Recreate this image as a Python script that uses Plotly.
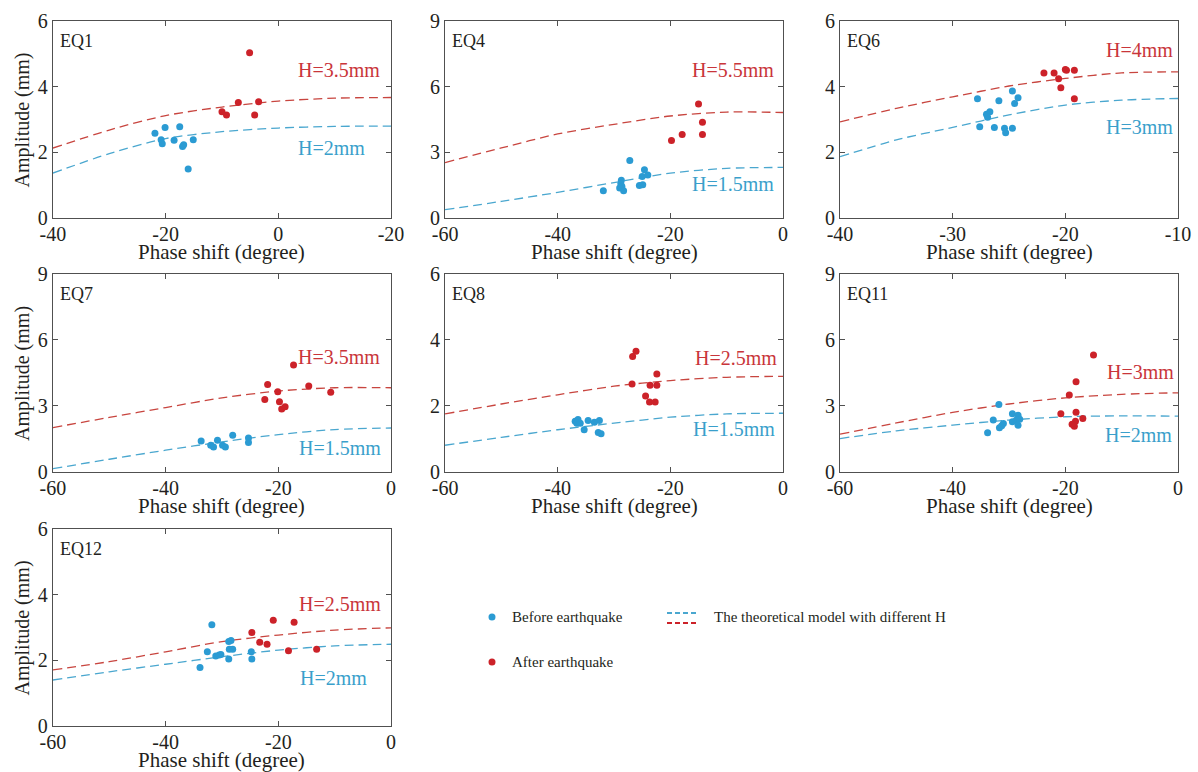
import plotly.graph_objects as go

# ---------------- data ----------------
EQ1_before_x = [-21.9, -20.1, -20.8, -20.6, -18.5, -17.5, -17.0, -16.8, -16.0, -15.1]
EQ1_before_y = [2.58, 2.76, 2.38, 2.26, 2.37, 2.78, 2.18, 2.23, 1.49, 2.38]
EQ1_after_x = [-5.1, -10.0, -9.2, -7.1, -3.5, -4.2]
EQ1_after_y = [5.03, 3.24, 3.14, 3.52, 3.54, 3.14]
EQ1_model_x = [-40, -30, -20, -10, 0, 10, 20]
EQ1_model_red = [2.13, 2.68, 3.12, 3.38, 3.56, 3.65, 3.67]
EQ1_model_blue = [1.37, 1.96, 2.42, 2.63, 2.74, 2.79, 2.80]

EQ4_before_x = [-31.9, -27.2, -28.7, -28.8, -28.6, -29.0, -28.3, -24.6, -25.0, -24.0, -25.5, -24.9]
EQ4_before_y = [1.24, 2.63, 1.73, 1.56, 1.44, 1.37, 1.24, 2.20, 1.90, 1.97, 1.49, 1.52]
EQ4_after_x = [-15.0, -14.3, -14.3, -17.9, -19.8]
EQ4_after_y = [5.21, 4.37, 3.82, 3.82, 3.54]
EQ4_model_x = [-60, -50, -40, -30, -20, -10, 0]
EQ4_model_red = [2.53, 3.20, 3.84, 4.28, 4.66, 4.84, 4.82]
EQ4_model_blue = [0.38, 0.76, 1.17, 1.62, 2.05, 2.27, 2.31]

EQ6_before_x = [-27.8, -27.6, -27.0, -26.7, -26.9, -26.3, -25.9, -25.4, -25.3, -24.7, -24.7, -24.5, -24.2]
EQ6_before_y = [3.63, 2.78, 3.16, 3.24, 3.07, 2.76, 3.57, 2.73, 2.60, 3.87, 2.73, 3.49, 3.66]
EQ6_after_x = [-21.9, -21.0, -20.6, -20.4, -20.0, -19.9, -19.2, -19.2]
EQ6_after_y = [4.42, 4.42, 4.24, 3.97, 4.52, 4.50, 4.50, 3.63]
EQ6_model_x = [-40, -35, -30, -25, -20, -15, -10]
EQ6_model_red = [2.93, 3.34, 3.69, 4.02, 4.25, 4.42, 4.45]
EQ6_model_blue = [1.87, 2.38, 2.76, 3.14, 3.44, 3.59, 3.64]

EQ7_before_x = [-33.7, -32.0, -31.5, -30.8, -29.9, -29.4, -28.1, -25.3, -25.3]
EQ7_before_y = [1.41, 1.22, 1.14, 1.44, 1.22, 1.14, 1.67, 1.55, 1.34]
EQ7_after_x = [-21.9, -22.4, -20.1, -19.8, -19.4, -18.8, -17.3, -14.6, -10.7]
EQ7_after_y = [3.98, 3.30, 3.65, 3.19, 2.86, 2.96, 4.86, 3.91, 3.62]
EQ7_model_x = [-60, -50, -40, -30, -20, -10, 0]
EQ7_model_red = [2.02, 2.48, 2.93, 3.37, 3.68, 3.83, 3.83]
EQ7_model_blue = [0.15, 0.58, 0.99, 1.37, 1.70, 1.93, 2.00]

EQ8_before_x = [-36.9, -36.4, -36.6, -36.0, -34.6, -35.3, -33.5, -32.6, -32.8, -32.3]
EQ8_before_y = [1.54, 1.59, 1.48, 1.48, 1.56, 1.28, 1.51, 1.56, 1.20, 1.16]
EQ8_after_x = [-26.7, -26.1, -26.8, -22.4, -23.6, -22.4, -24.4, -23.7, -22.7]
EQ8_after_y = [3.50, 3.66, 2.67, 2.97, 2.63, 2.63, 2.30, 2.12, 2.12]
EQ8_model_x = [-60, -50, -40, -30, -20, -10, 0]
EQ8_model_red = [1.76, 2.06, 2.34, 2.60, 2.77, 2.87, 2.90]
EQ8_model_blue = [0.81, 1.05, 1.28, 1.48, 1.66, 1.76, 1.78]

EQ11_before_x = [-33.8, -32.8, -31.8, -31.7, -31.3, -31.0, -29.4, -28.4, -29.4, -28.7, -28.1, -28.4]
EQ11_before_y = [1.78, 2.36, 3.07, 2.01, 2.10, 2.20, 2.65, 2.58, 2.28, 2.36, 2.40, 2.13]
EQ11_after_x = [-15.0, -18.1, -19.3, -20.8, -18.1, -16.9, -18.2, -18.8, -18.4]
EQ11_after_y = [5.32, 4.10, 3.50, 2.65, 2.71, 2.43, 2.31, 2.17, 2.08]
EQ11_model_x = [-60, -50, -40, -30, -20, -10, 0]
EQ11_model_red = [1.72, 2.23, 2.71, 3.09, 3.37, 3.53, 3.60]
EQ11_model_blue = [1.52, 1.87, 2.13, 2.36, 2.51, 2.55, 2.54]

EQ12_before_x = [-33.9, -32.6, -31.8, -31.1, -30.5, -30.2, -28.8, -28.8, -28.4, -28.7, -28.1, -24.8, -24.7]
EQ12_before_y = [1.78, 2.26, 3.08, 2.13, 2.16, 2.18, 2.04, 2.57, 2.60, 2.34, 2.34, 2.26, 2.04]
EQ12_after_x = [-24.7, -23.3, -22.0, -20.9, -17.2, -18.2, -13.2]
EQ12_after_y = [2.85, 2.55, 2.49, 3.22, 3.16, 2.29, 2.34]
EQ12_model_x = [-60, -50, -40, -30, -20, -10, 0]
EQ12_model_red = [1.71, 1.96, 2.26, 2.57, 2.77, 2.92, 2.99]
EQ12_model_blue = [1.40, 1.65, 1.88, 2.11, 2.31, 2.44, 2.49]

panel_names = ["EQ1", "EQ4", "EQ6", "EQ7", "EQ8", "EQ11", "EQ12"]
red_labels = ["H=3.5mm", "H=5.5mm", "H=4mm", "H=3.5mm", "H=2.5mm", "H=3mm", "H=2.5mm"]
blue_labels = ["H=2mm", "H=1.5mm", "H=3mm", "H=1.5mm", "H=1.5mm", "H=2mm", "H=2mm"]

x_ticks = {
    "EQ1": ([-40, -20, 0, 20], ["-40", "-20", "0", "-20"]),
    "EQ4": ([-60, -40, -20, 0], ["-60", "-40", "-20", "0"]),
    "EQ6": ([-40, -30, -20, -10], ["-40", "-30", "-20", "-10"]),
    "EQ7": ([-60, -40, -20, 0], ["-60", "-40", "-20", "0"]),
    "EQ8": ([-60, -40, -20, 0], ["-60", "-40", "-20", "0"]),
    "EQ11": ([-60, -40, -20, 0], ["-60", "-40", "-20", "0"]),
    "EQ12": ([-60, -40, -20, 0], ["-60", "-40", "-20", "0"]),
}
y_ticks = {
    "EQ1": [0, 2, 4, 6], "EQ4": [0, 3, 6, 9], "EQ6": [0, 2, 4, 6],
    "EQ7": [0, 3, 6, 9], "EQ8": [0, 2, 4, 6], "EQ11": [0, 3, 6, 9],
    "EQ12": [0, 2, 4, 6],
}

data = {
    "EQ1": (EQ1_before_x, EQ1_before_y, EQ1_after_x, EQ1_after_y, EQ1_model_x, EQ1_model_red, EQ1_model_blue),
    "EQ4": (EQ4_before_x, EQ4_before_y, EQ4_after_x, EQ4_after_y, EQ4_model_x, EQ4_model_red, EQ4_model_blue),
    "EQ6": (EQ6_before_x, EQ6_before_y, EQ6_after_x, EQ6_after_y, EQ6_model_x, EQ6_model_red, EQ6_model_blue),
    "EQ7": (EQ7_before_x, EQ7_before_y, EQ7_after_x, EQ7_after_y, EQ7_model_x, EQ7_model_red, EQ7_model_blue),
    "EQ8": (EQ8_before_x, EQ8_before_y, EQ8_after_x, EQ8_after_y, EQ8_model_x, EQ8_model_red, EQ8_model_blue),
    "EQ11": (EQ11_before_x, EQ11_before_y, EQ11_after_x, EQ11_after_y, EQ11_model_x, EQ11_model_red, EQ11_model_blue),
    "EQ12": (EQ12_before_x, EQ12_before_y, EQ12_after_x, EQ12_after_y, EQ12_model_x, EQ12_model_red, EQ12_model_blue),
}

# ---------------- styling / layout ----------------
FONT = "Liberation Serif, Times New Roman, serif"
TXT = "#231f20"
AX = "#505050"
C_BLUE_PT = "#2b9bd3"
C_RED_PT = "#cc2229"
C_BLUE_LN = "#4aa7cf"
C_RED_LN = "#c8453f"
C_BLUE_TX = "#3a9fcb"
C_RED_TX = "#c9353a"

col_dom = [(0.0442, 0.3264), (0.3715, 0.6536), (0.7012, 0.9833)]
row_dom = [(0.7176, 0.9728), (0.3886, 0.6451), (0.0596, 0.3148)]
pos = [(0, 0), (0, 1), (0, 2), (1, 0), (1, 1), (1, 2), (2, 0)]
# label placement in axis-domain x and data y
red_lab_pos = [(0.973, 4.52), (0.980, 6.78), (0.992, 5.11), (0.973, 5.24), (0.987, 3.44), (0.993, 4.53), (0.975, 3.70)]
blue_lab_pos = [(0.929, 2.12), (0.980, 1.55), (0.992, 2.78), (0.976, 1.09), (0.982, 1.31), (0.987, 1.67), (0.935, 1.45)]

fig = go.Figure()
annotations = []
shapes = []

for i, name in enumerate(panel_names):
    r, c = pos[i]
    n = "" if i == 0 else str(i + 1)
    xa, ya = "x" + n, "y" + n
    bx, by, ax_, ay, mx, mr, mb = data[name]
    fig.add_trace(go.Scatter(x=mx, y=mr, mode="lines", line=dict(color=C_RED_LN, width=1.3, dash="9px,5px", shape="spline", smoothing=0.8),
                             xaxis=xa, yaxis=ya, showlegend=False, hoverinfo="skip"))
    fig.add_trace(go.Scatter(x=mx, y=mb, mode="lines", line=dict(color=C_BLUE_LN, width=1.3, dash="9px,5px", shape="spline", smoothing=0.8),
                             xaxis=xa, yaxis=ya, showlegend=False, hoverinfo="skip"))
    fig.add_trace(go.Scatter(x=bx, y=by, mode="markers", marker=dict(color=C_BLUE_PT, size=7, line=dict(width=0)),
                             xaxis=xa, yaxis=ya, showlegend=False, name="Before earthquake"))
    fig.add_trace(go.Scatter(x=ax_, y=ay, mode="markers", marker=dict(color=C_RED_PT, size=7, line=dict(width=0)),
                             xaxis=xa, yaxis=ya, showlegend=False, name="After earthquake"))

    tv, tt = x_ticks[name]
    yt = y_ticks[name]
    common = dict(showline=True, linecolor=AX, linewidth=1.2, mirror="ticks", ticks="inside", ticklen=5,
                  tickcolor=AX, tickwidth=1.2, showgrid=False, zeroline=False, automargin=False,
                  tickfont=dict(family=FONT, size=20, color=TXT))
    fig.layout["xaxis" + n] = dict(domain=col_dom[c], anchor=ya, range=[tv[0], tv[-1]], tickvals=tv, ticktext=tt,
                                   ticklabelstandoff=-2, **common)
    fig.layout["yaxis" + n] = dict(domain=row_dom[r], anchor=xa, range=[yt[0], yt[-1]], tickvals=yt,
                                   **common)

    # axis titles
    annotations.append(dict(text="Phase shift (degree)", xref=xa + " domain", yref=ya + " domain", x=0.5, y=0,
                            xanchor="center", yanchor="middle", yshift=-34, showarrow=False,
                            font=dict(family=FONT, size=21, color=TXT)))
    if c == 0:
        annotations.append(dict(text="Amplitude (mm)", xref=xa + " domain", yref=ya + " domain", x=0, y=0.5,
                                xanchor="center", yanchor="middle", xshift=-30, textangle=-90, showarrow=False,
                                font=dict(family=FONT, size=20, color=TXT)))

    annotations.append(dict(text=name, xref=xa + " domain", yref=ya + " domain", x=0.015, y=0.90,
                            xanchor="left", yanchor="middle", showarrow=False,
                            font=dict(family=FONT, size=18, color=TXT)))
    rx, ry = red_lab_pos[i]
    annotations.append(dict(text=red_labels[i], xref=xa + " domain", yref=ya, x=rx, y=ry,
                            xanchor="right", yanchor="middle", showarrow=False,
                            font=dict(family=FONT, size=20, color=C_RED_TX)))
    bxp, byp = blue_lab_pos[i]
    annotations.append(dict(text=blue_labels[i], xref=xa + " domain", yref=ya, x=bxp, y=byp,
                            xanchor="right", yanchor="middle", showarrow=False,
                            font=dict(family=FONT, size=20, color=C_BLUE_TX)))

# ---------------- manual legend ----------------
W, H = 1198, 772
def px(xp):
    return xp / W
def py(yp):
    return 1 - yp / H

for (cx, cy, col) in [(492, 617, C_BLUE_PT), (492, 662, C_RED_PT)]:
    shapes.append(dict(type="circle", xref="paper", yref="paper", xsizemode="pixel", ysizemode="pixel",
                       xanchor=px(cx), yanchor=py(cy), x0=-3.5, x1=3.5, y0=-3.5, y1=3.5,
                       fillcolor=col, line=dict(width=0)))
shapes.append(dict(type="line", xref="paper", yref="paper", x0=px(667), x1=px(699), y0=py(613), y1=py(613),
                   line=dict(color=C_BLUE_LN, width=2, dash="5px,3px")))
shapes.append(dict(type="line", xref="paper", yref="paper", x0=px(667), x1=px(699), y0=py(623), y1=py(623),
                   line=dict(color=C_RED_PT, width=2, dash="5px,3px")))
for (tx, ty, t) in [(510, 617, "Before earthquake"), (510, 662, "After earthquake"),
                    (712, 617, "The theoretical model with different H")]:
    annotations.append(dict(text=t, xref="paper", yref="paper", x=px(tx), y=py(ty), xanchor="left", yanchor="middle",
                            showarrow=False, font=dict(family=FONT, size=15, color=TXT)))

fig.update_layout(width=W, height=H, margin=dict(l=0, r=0, t=0, b=0), plot_bgcolor="white", paper_bgcolor="white",
                  annotations=annotations, shapes=shapes, showlegend=False)

fig.write_html("out.html", config={"displayModeBar": False},
               post_script="document.body.style.margin='0px';document.body.style.overflow='hidden';")
